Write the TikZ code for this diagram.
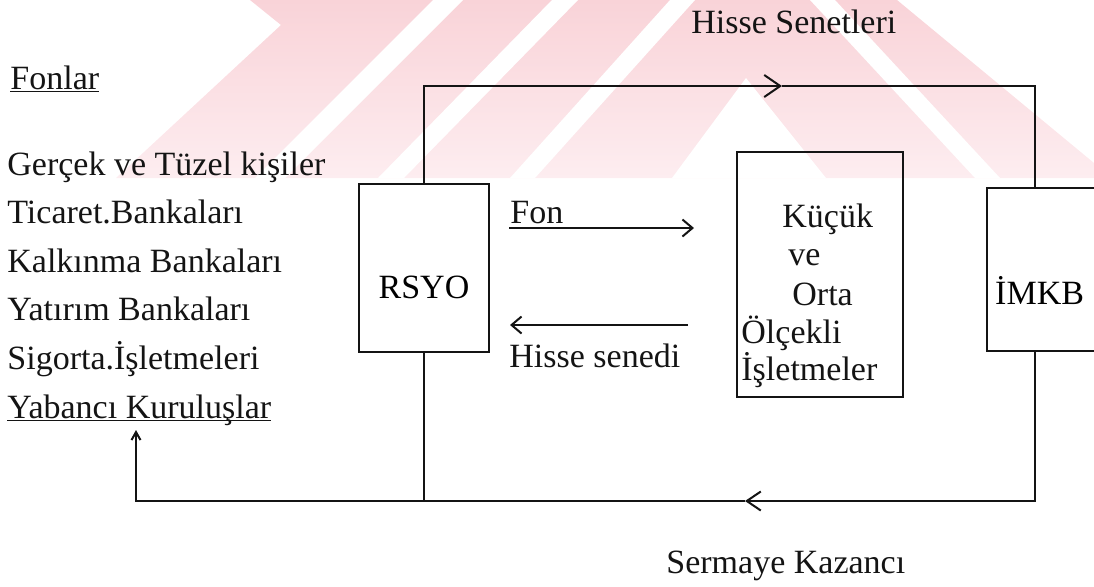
\documentclass[tikz,border=0pt]{standalone}
\usepackage{fontspec}
\setmainfont{Liberation Serif}
\usetikzlibrary{arrows.meta,calc}
\definecolor{ink}{HTML}{141414}
\definecolor{markTop}{HTML}{F9D3D8}
\definecolor{markBottom}{HTML}{FDEDF0}
\newcommand\udl[1]{\underline{\smash{#1}}}
\tikzset{
  box/.style={draw=ink,line width=1.2pt,inner sep=0pt},
  wire/.style={draw=ink,line width=1pt},
  txt/.style={inner sep=0pt,anchor=base west,text=ink},
  bigTip/.style={-{Straight Barb[length=8pt,width=11pt]}},
  smallTip/.style={-{Straight Barb[length=5pt,width=8.5pt]}},
  upTip/.style={-{Straight Barb[length=4pt,width=4.5pt]}}
}

\begin{document}
\begin{tikzpicture}[x=0.5pt,y=-0.5pt,font=\fontsize{17}{20}\selectfont]
  \useasboundingbox (0,0) rectangle (1094,586);

  % Faint stamp behind the upper part of the page.
  \shade[top color=markTop,bottom color=markBottom]
    (250,0) -- (897,0) -- (1094,163) -- (1094,178) -- (116,178) -- (281,25) -- cycle;
  \fill[white] (433,0) -- (463,0) -- (285,178) -- (255,178) -- cycle;
  \fill[white] (552,0) -- (578,0) -- (404,178) -- (378,178) -- cycle;
  \fill[white] (670,0) -- (695,0) -- (535,178) -- (510,178) -- cycle;
  \fill[white] (746,78) -- (826,178) -- (672,178) -- cycle;
  \fill[white] (810,0) -- (835,0) -- (1000,178) -- (975,178) -- cycle;

  \node[txt] (shares) at (691,33) {Hisse Senetleri};
  \node[txt] (funds) at (10,89) {\udl{Fonlar}};
  \foreach \name [count=\i] in {Gerçek ve Tüzel kişiler,Ticaret.Bankaları,
    Kalkınma Bankaları,Yatırım Bankaları,Sigorta.İşletmeleri,
    \udl{Yabancı Kuruluşlar}}
    \node[txt] (source\i) at (7,{175+48.6*(\i-1)}) {\name};

  \node[box,anchor=base,minimum width=65pt,text height=57pt,text depth=27pt]
    (rsyo) at (424,298) {RSYO};
  \node[box,minimum width=83pt,minimum height=122.5pt] (sme) at (820,274.5) {};
  \foreach \word/\x/\y [count=\i] in {Küçük/782/227,ve/788/265,Orta/792/305,
    Ölçekli/741/343,İşletmeler/741/380}
    \node[txt] (sme\i) at (\x,\y) {\word};
  \node[box,anchor=base west,align=left,text width=49pt,inner xsep=4pt,
    text height=58pt,text depth=23.5pt] (imkb) at (986,304) {İMKB};

  % Fund and share flows between RSYO and the firms.
  \coordinate (fonTail) at (509,228);
  \coordinate (fonTip) at (694,228);
  \draw[wire,smallTip] (fonTail) -- (fonTip);
  \node[txt] (fonLabel) at (510,223) {Fon};
  \coordinate (stockTail) at (688,325);
  \coordinate (stockTip) at (510,325);
  \draw[wire,smallTip] (stockTail) -- (stockTip);
  \node[txt] (stockLabel) at (509,367) {Hisse senedi};

  % Outer loop: shares go to the exchange, gains come back to the sources.
  \coordinate (topTip) at (782,86);
  \coordinate (imkbTop) at ($(imkb.north west)+(49,0)$);
  \coordinate (imkbFoot) at ($(imkb.south west)+(49,0)$);
  \draw[wire,bigTip] (rsyo.north) |- (topTip);
  \draw[wire] (topTip) -| (imkbTop);
  \coordinate (bottomTip) at (745,501);
  \coordinate (sourceTip) at (136,430);
  \draw[wire,-{Straight Barb[length=7pt,width=9.5pt]}] (imkbFoot) |- (bottomTip);
  \draw[wire,upTip] (bottomTip) -| (sourceTip);
  \draw[wire] (rsyo.south) -- (rsyo.south |- bottomTip);
  \node[txt] (gainLabel) at (666,573) {Sermaye Kazancı};
\end{tikzpicture}
\end{document}
